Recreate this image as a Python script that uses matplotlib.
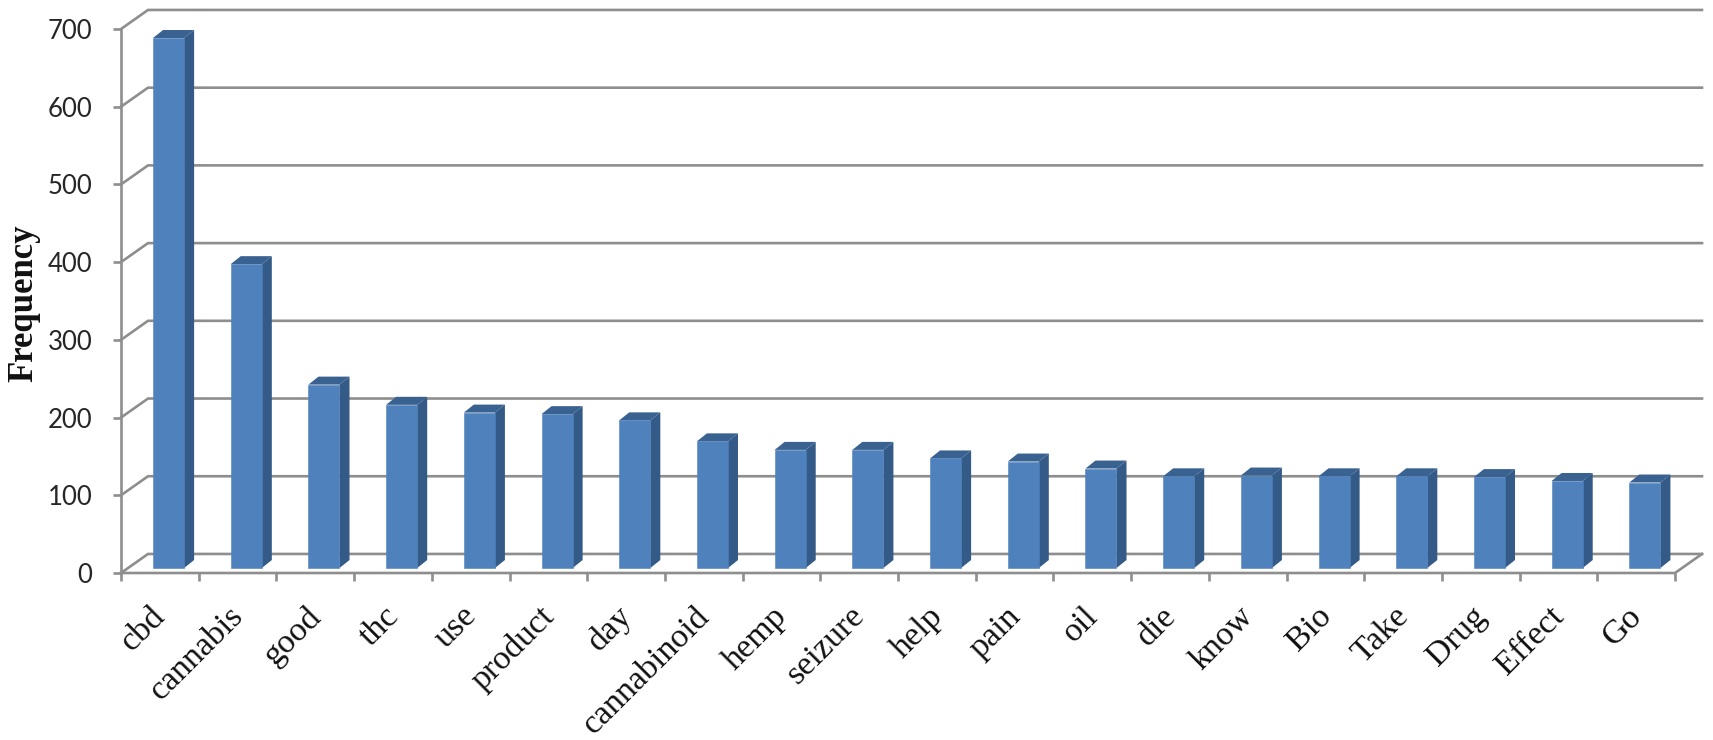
#!/usr/bin/python3

import matplotlib
matplotlib.use("Agg")
import matplotlib.pyplot as plt
import matplotlib.transforms as mtrans
import numpy as np

WORDS = ["cbd", "cannabis", "good", "thc", "use", "product", "day", "cannabinoid",
         "hemp", "seizure", "help", "pain", "oil", "die", "know", "Bio", "Take",
         "Drug", "Effect", "Go"]
FREQ = [682, 391, 236, 210, 200, 198, 190, 163, 152, 152, 141, 137, 128, 118,
        119, 118, 118, 117, 112, 110]
Y_TICKS = [0, 100, 200, 300, 400, 500, 600, 700]

W, H = 1713, 740
LEFT, RIGHT, TOP, BOTTOM = 121, 1675, 29, 573

# fake 3d: offsets in data units (categories, frequency)
WALL_DX = 27 / 77.7
WALL_DY = 24.5
BAR_LEFT = -0.088
BAR_W = 0.40
BAR_BASE = 6.4
SIDE_DX = 0.129
SIDE_DY = 10.3

GRID = "#8e8e8e"
FRONT = "#4f81bd"
SIDE = "#345a88"
ROOF = "#3a6291"
LINE_W = 1.9

fig = plt.figure(figsize=(W / 100, H / 100), dpi=100)
ax = fig.add_axes([LEFT / W, 1 - BOTTOM / H, (RIGHT - LEFT) / W, (BOTTOM - TOP) / H])
ax.set_xlim(-0.5, 19.5)
ax.set_ylim(0, 700)
for s in ax.spines.values():
    s.set_visible(False)

xs = np.arange(len(WORDS))
x0, x1 = ax.get_xlim()

""" Walls and floor """
for v in Y_TICKS:
    ax.plot([x0, x0 + WALL_DX, x1 + WALL_DX], [v, v + WALL_DY, v + WALL_DY],
            color=GRID, lw=LINE_W, clip_on=False, zorder=1, solid_joinstyle="miter")
ax.plot([x0, x0], [0, 700], color=GRID, lw=LINE_W, clip_on=False, zorder=1)
ax.plot([x0, x1, x1 + WALL_DX], [0, 0, WALL_DY], color=GRID, lw=LINE_W, clip_on=False, zorder=1)

""" Bars """
for x, v in zip(xs, FREQ):
    l = x + BAR_LEFT
    r = l + BAR_W
    top = BAR_BASE + v
    ax.fill([r, r + SIDE_DX, r + SIDE_DX, r],
            [BAR_BASE, BAR_BASE + SIDE_DY, top + SIDE_DY, top],
            color=SIDE, lw=0, clip_on=False, zorder=3)
    ax.fill([l, l + SIDE_DX, r + SIDE_DX, r],
            [top, top + SIDE_DY, top + SIDE_DY, top],
            color=ROOF, lw=0, clip_on=False, zorder=3)
ax.bar(xs + BAR_LEFT, FREQ, width=BAR_W, bottom=BAR_BASE, align="edge", color=FRONT,
       edgecolor=FRONT, lw=0.4, clip_on=False, zorder=4)

""" Ticks """
ax.set_yticks(Y_TICKS)
ax.set_yticklabels([str(v) for v in Y_TICKS], fontfamily="Lato", fontsize=18.5, color="#262626")
ax.tick_params(axis="y", length=5.5, width=LINE_W, color=GRID, pad=15)

ax.set_xticks(xs)
ax.set_xticklabels(WORDS, rotation=45, ha="right", va="top", rotation_mode="anchor",
                   fontfamily="Liberation Serif", fontsize=24.5, color="#111111")
ax.set_xticks(np.arange(x0, x1 + 1), minor=True)
ax.tick_params(axis="x", which="major", length=0, pad=20)
ax.tick_params(axis="x", which="minor", length=6, width=LINE_W, color=GRID)

# labels sit a little left of the category centre
shift = mtrans.ScaledTranslation(-7 / 72, 0, fig.dpi_scale_trans)
for lab in ax.get_xticklabels():
    lab.set_transform(lab.get_transform() + shift)

fig.text(24 / W, 1 - 303 / H, "Frequency", rotation=90, ha="center", va="center",
         fontfamily="Liberation Serif", fontweight="bold", fontsize=25, color="#111111")

fig.savefig("out.png", dpi=100, facecolor="white")
